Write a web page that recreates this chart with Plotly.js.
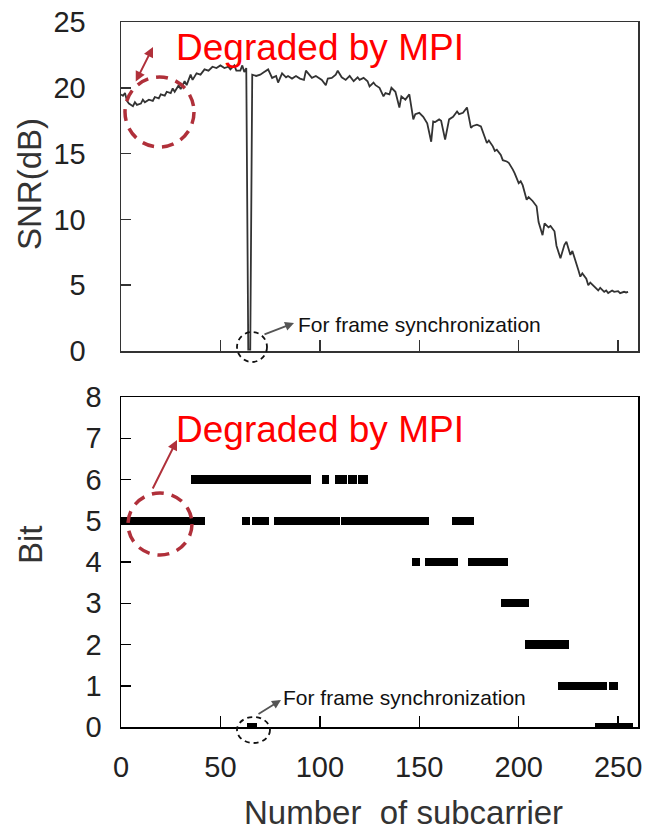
<!DOCTYPE html>
<html>
<head>
<meta charset="utf-8">
<script src="https://cdn.plot.ly/plotly-3.0.1.min.js"></script>
<style>html,body{margin:0;padding:0;background:#fff;}#chart{width:648px;height:830px;}</style>
</head>
<body>
<div id="chart"></div>
<script>
// ---- Data ----
const subcarrier = [0,1,2,3,4,6,7,8,10,11,12,14,16,17,19,20,22,23,25,26,27,29,30,32,33,35,36,38,40,42,44,46,48,50,52,54,55,57,58,60,61,62,63,64,65,66,68,70,72,74,76,78,79,81,83,84,86,88,90,92,93,95,96,98,100,101,103,104,106,108,109,111,113,115,117,119,120,122,124,125,127,128,130,132,133,135,136,138,140,141,143,145,147,148,150,152,154,156,157,158,160,161,163,164,165,167,169,170,172,174,176,177,179,181,182,184,185,187,188,189,191,192,194,195,197,198,200,201,202,204,205,207,209,210,212,213,215,216,218,219,221,223,224,226,227,228,230,231,232,234,235,236,238,239,240,241,243,244,245,247,248,250,251,253,254,255];
const snr = [19.5,19.4,19.6,19.0,18.8,18.6,18.9,18.7,18.8,19.1,18.9,19.1,19.0,19.3,19.2,19.5,19.4,19.7,19.6,19.95,19.7,20.2,19.9,20.5,20.2,21.0,20.6,21.1,21.0,21.4,21.3,21.6,21.5,21.7,21.5,21.6,21.4,21.7,21.3,21.3,21.7,21.2,21.5,0.1,0.1,21.0,20.9,21.0,21.2,21.4,20.75,20.9,20.4,21.1,20.8,20.9,20.7,20.9,20.7,20.6,21.3,20.9,20.75,20.9,20.7,20.6,20.2,20.7,20.75,21.0,21.3,20.8,20.6,20.9,20.5,20.8,20.6,20.75,20.5,20.1,20.4,20.2,20.0,19.35,19.6,19.5,20.0,19.7,18.5,19.35,19.1,19.5,17.6,18.0,18.1,17.8,17.3,15.9,17.45,17.4,17.6,17.5,16.06,17.0,17.6,17.8,18.2,18.0,18.1,18.5,16.95,17.1,17.2,17.07,16.6,15.8,16.0,15.55,15.2,15.3,14.9,14.5,14.4,14.3,13.8,13.5,12.75,12.9,12.6,11.5,11.7,11.4,11.0,9.8,8.8,9.7,9.4,9.5,9.1,8.0,7.05,8.07,8.3,7.3,7.6,7.05,6.16,5.65,5.9,5.5,5.0,5.2,4.9,4.7,4.6,4.8,4.5,4.6,4.4,4.6,4.5,4.55,4.4,4.5,4.45,4.5];

// bit-loading segments: start subcarrier, end subcarrier, bit value
const segStart = [-0.5,60.9,66,77,110.6,166.7, 35.2,101,107.8,114.3,119.3, 146.5,153,174.7, 191.3, 203, 220,245.6, 63.3,238.2];
const segEnd   = [42.3,65,74.5,110,155,177.6, 95.7,104.4,113.5,118.5,124.4, 150.6,169.5,194.7, 205.3, 225.4, 244.6,249.7, 68.6,257.6];
const segBit   = [5,5,5,5,5,5, 6,6,6,6,6, 4,4,4, 3, 2, 1,1, 0,0];

const xTicks = [0,50,100,150,200,250];
const xTicksTop = [50,100,150,200,250];
const snrTicks = [0,5,10,15,20,25];
const bitTicks = [0,1,2,3,4,5,6,7,8];

// ---- Layout helpers (pixel -> paper) ----
const L = 121, R = 638, T = 22, B = 727;
const W = R - L, H = B - T;
const xp = px => (px - L) / W;
const yp = py => (B - py) / H;

const FONT = 'Liberation Sans, Arial, sans-serif';

const traces = [
  {
    type: 'scatter', mode: 'lines', x: subcarrier, y: snr,
    xaxis: 'x2', yaxis: 'y2',
    line: {color: '#333', width: 1.8},
    hoverinfo: 'skip', showlegend: false
  },
  {
    type: 'bar', orientation: 'h',
    y: segBit, base: segStart,
    x: segEnd.map((e, i) => e - segStart[i]),
    width: 0.2,
    marker: {color: '#000', line: {width: 0}},
    cliponaxis: false,
    xaxis: 'x', yaxis: 'y',
    hoverinfo: 'skip', showlegend: false
  }
];

const axCommon = {
  showgrid: false, zeroline: false, showline: true, mirror: true,
  ticks: 'inside', linewidth: 1.5, tickwidth: 1.5,
  tickfont: {family: FONT, size: 29, color: '#222'}
};

const red = '#b0303a';
const shapes = [
  {type: 'circle', xref: 'paper', yref: 'paper', x0: xp(125), x1: xp(194), y0: yp(147), y1: yp(77),
   line: {color: red, width: 3.5, dash: '12px,8px'}},
  {type: 'circle', xref: 'paper', yref: 'paper', x0: xp(128), x1: xp(192), y0: yp(555), y1: yp(493),
   line: {color: red, width: 3.5, dash: '12px,8px'}},
  {type: 'circle', xref: 'paper', yref: 'paper', x0: xp(237), x1: xp(267), y0: yp(362), y1: yp(332),
   line: {color: '#111', width: 1.8, dash: '5px,4px'}},
  {type: 'circle', xref: 'paper', yref: 'paper', x0: xp(237), x1: xp(270), y0: yp(743), y1: yp(717),
   line: {color: '#111', width: 1.8, dash: '5px,4px'}}
];

const annotations = [
  {xref: 'paper', yref: 'paper', x: xp(174), y: yp(47), xanchor: 'left', yanchor: 'middle',
   text: 'Degraded by MPI', showarrow: false, font: {family: FONT, size: 37, color: '#ff0000'}},
  {xref: 'paper', yref: 'paper', x: xp(174), y: yp(430), xanchor: 'left', yanchor: 'middle',
   text: 'Degraded by MPI', showarrow: false, font: {family: FONT, size: 37, color: '#ff0000'}},
  {xref: 'paper', yref: 'paper', x: xp(296), y: yp(325), xanchor: 'left', yanchor: 'middle',
   text: 'For frame synchronization', showarrow: false, font: {family: FONT, size: 21, color: '#111'}},
  {xref: 'paper', yref: 'paper', x: xp(281), y: yp(697), xanchor: 'left', yanchor: 'middle',
   text: 'For frame synchronization', showarrow: false, font: {family: FONT, size: 21, color: '#111'}},
  // arrows
  {xref: 'paper', yref: 'paper', x: xp(153), y: yp(47), ax: -18, ay: 36, text: '', showarrow: true,
   arrowside: 'end+start', arrowhead: 2, arrowsize: 1, arrowwidth: 2, arrowcolor: red},
  {xref: 'paper', yref: 'paper', x: xp(177), y: yp(440), ax: -25, ay: 50, text: '', showarrow: true,
   arrowhead: 2, arrowsize: 1, arrowwidth: 2, arrowcolor: red},
  {xref: 'paper', yref: 'paper', x: xp(294), y: yp(323), ax: -31, ay: 12, text: '', showarrow: true,
   arrowhead: 2, arrowsize: 1, arrowwidth: 1.8, arrowcolor: '#555'},
  {xref: 'paper', yref: 'paper', x: xp(281), y: yp(700), ax: -24, ay: 15, text: '', showarrow: true,
   arrowhead: 2, arrowsize: 1, arrowwidth: 1.8, arrowcolor: '#555'},
  // axis titles
  {xref: 'paper', yref: 'paper', x: xp(29), y: yp(184), xanchor: 'center', yanchor: 'middle',
   text: 'SNR(dB)', textangle: -90, showarrow: false, font: {family: FONT, size: 33, color: '#333'}},
  {xref: 'paper', yref: 'paper', x: xp(30), y: yp(545), xanchor: 'center', yanchor: 'middle',
   text: 'Bit', textangle: -90, showarrow: false, font: {family: FONT, size: 33, color: '#333'}},
  {xref: 'paper', yref: 'paper', x: xp(403), y: yp(812), xanchor: 'center', yanchor: 'middle',
   text: 'Number\u00a0 of subcarrier', showarrow: false, font: {family: FONT, size: 33, color: '#333'}}
];

const layout = {
  width: 648, height: 830,
  margin: {l: L, r: 648 - R, t: T, b: 830 - B, pad: 0},
  paper_bgcolor: '#fff', plot_bgcolor: '#fff',
  showlegend: false,
  bargap: 0,
  xaxis: Object.assign({}, axCommon, {
    anchor: 'y', domain: [0, 1], range: [0, 260],
    tickvals: xTicks, ticktext: xTicks.map(String), ticklen: 11,
    linecolor: '#000', tickcolor: '#000', ticklabelstandoff: 14
  }),
  yaxis: Object.assign({}, axCommon, {
    anchor: 'x', domain: [0, yp(397)], range: [0, 8],
    tickvals: bitTicks, ticktext: bitTicks.map(String), ticklen: 10,
    linecolor: '#000', tickcolor: '#000', ticklabelstandoff: 12
  }),
  xaxis2: Object.assign({}, axCommon, {
    anchor: 'y2', domain: [0, 1], range: [0, 260],
    tickvals: xTicksTop, showticklabels: false, ticklen: 11,
    linecolor: '#333', tickcolor: '#333'
  }),
  yaxis2: Object.assign({}, axCommon, {
    anchor: 'x2', domain: [yp(351), 1], range: [0, 25],
    tickvals: snrTicks, ticktext: snrTicks.map(String), ticklen: 10,
    linecolor: '#333', tickcolor: '#333', ticklabelstandoff: 28
  }),
  shapes: shapes,
  annotations: annotations
};

Plotly.newPlot('chart', traces, layout, {displayModeBar: false, staticPlot: true});
</script>
</body>
</html>
